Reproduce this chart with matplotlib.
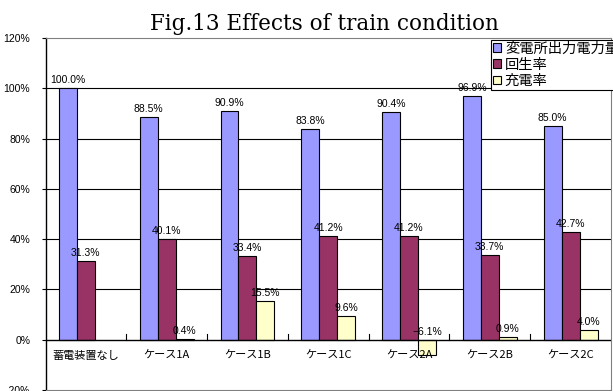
import matplotlib
matplotlib.use("Agg")
import matplotlib.pyplot as plt
import numpy as np

categories = ["蓄電装置なし", "ケース1A", "ケース1B", "ケース1C", "ケース2A", "ケース2B", "ケース2C"]
series_names = ["変電所出力電力量", "回生率", "充電率"]
substation_output = [100.0, 88.5, 90.9, 83.8, 90.4, 96.9, 85.0]
regen_rate = [31.3, 40.1, 33.4, 41.2, 41.2, 33.7, 42.7]
charge_rate = [None, 0.4, 15.5, 9.6, -6.1, 0.9, 4.0]
yticks = [-20, 0, 20, 40, 60, 80, 100, 120]

colors = ["#9999FF", "#993366", "#FFFFCC"]
jp = ["Noto Sans CJK JP", "DejaVu Sans"]
num_font = ["Liberation Sans", "DejaVu Sans"]

fig = plt.figure(figsize=(6.13, 3.91), dpi=100)
ax = fig.add_axes([45.5 / 613, 1 - 390 / 391, 565.5 / 613, 352 / 391])

n = len(categories)
centers = np.arange(n) + 0.5
bw = 18 / 81

for k, vals in enumerate([substation_output, regen_rate, charge_rate]):
    xs, hs = [], []
    for i, v in enumerate(vals):
        if v is None:
            continue
        xs.append(centers[i] + (k - 1) * bw)
        hs.append(v)
    ax.bar(xs, hs, width=bw, color=colors[k], edgecolor="black",
           linewidth=0.8, label=series_names[k], zorder=3)
    for x, v in zip(xs, hs):
        ax.text(x, max(v, 0) + 1.2, f"{v:.1f}%".replace("-", "−"),
                ha="center", va="bottom", fontsize=7.5,
                family=num_font, zorder=4)

ax.set_xlim(0, n)
ax.set_ylim(-20, 120)

# y axis
ax.set_yticks(yticks)
ax.set_yticklabels([f"{t}%" for t in yticks], family=num_font, fontsize=7.5)
ax.tick_params(axis="y", direction="out", length=3, width=0.8, pad=8)

# horizontal grid lines and zero line
for t in [20, 40, 60, 80, 100]:
    ax.axhline(t, color="black", linewidth=0.8, zorder=1)
ax.axhline(0, color="black", linewidth=1.0, zorder=5)

# category separators on the zero line
for b in range(1, n):
    ax.plot([b, b], [0, 2.2], color="black", linewidth=0.8, zorder=5)

ax.set_xticks([])
for i, c in enumerate(categories):
    ax.text(centers[i], -4.5, c, ha="center", va="top", fontsize=8, family=jp)

for side in ["top", "right", "bottom"]:
    ax.spines[side].set_color("#808080")
    ax.spines[side].set_linewidth(0.8)
ax.spines["left"].set_color("black")
ax.spines["left"].set_linewidth(1.0)

fig.text(0.53, 1 - 30 / 391, "Fig.13 Effects of train condition", ha="center",
         va="baseline", fontsize=15.5, family=["DejaVu Serif"])

leg = fig.legend(loc="upper left", bbox_to_anchor=(491 / 613, 1 - 40 / 391),
                 prop={"family": jp, "size": 10.3}, frameon=True,
                 fancybox=False, edgecolor="black", framealpha=1,
                 handlelength=0.55, handleheight=0.55, handletextpad=0.3,
                 borderpad=0.12, labelspacing=0.15, borderaxespad=0)
leg.get_frame().set_linewidth(0.8)

fig.savefig("out.png", dpi=100)
